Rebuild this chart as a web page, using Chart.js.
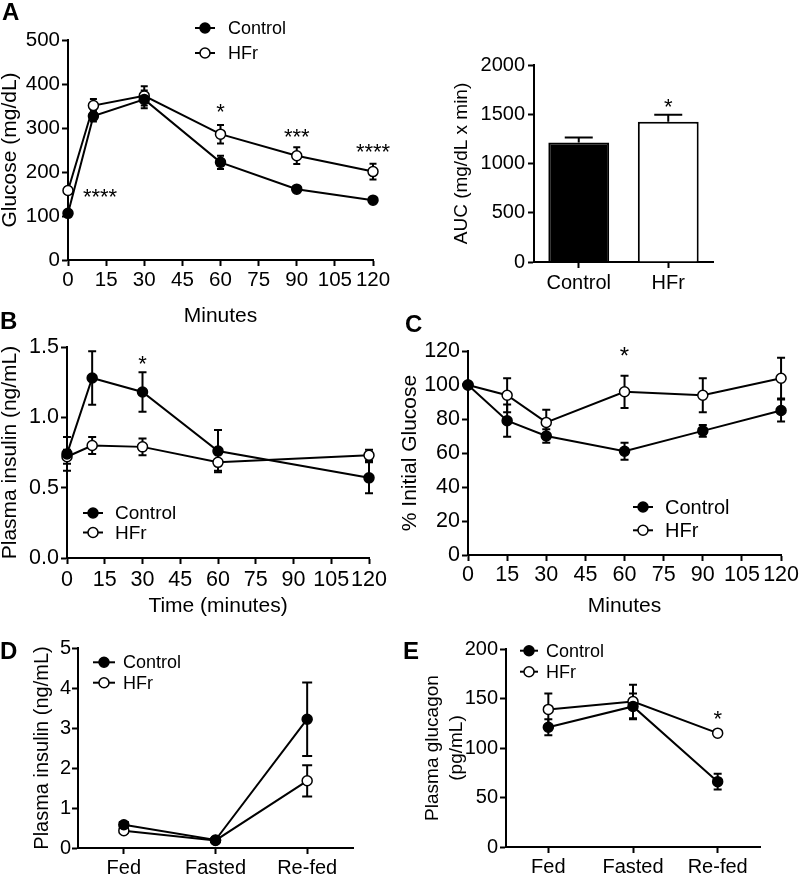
<!DOCTYPE html>
<html><head><meta charset="utf-8">
<script src="https://cdn.jsdelivr.net/npm/chart.js@4.4.1/dist/chart.umd.min.js"></script>
<style>
body{margin:0;background:#fff;width:800px;height:876px;position:relative;overflow:hidden;font-family:'Liberation Sans',Arial,sans-serif}
canvas{position:absolute}
.lbl{position:absolute;font-weight:bold;font-size:24px;line-height:24px;color:#000;font-family:'Liberation Sans',Arial,sans-serif}
</style></head><body>
<canvas id="cA" width="400" height="330" style="left:0;top:0"></canvas>
<canvas id="cAUC" width="400" height="330" style="left:400px;top:0"></canvas>
<canvas id="cB" width="400" height="290" style="left:0;top:330px"></canvas>
<canvas id="cC" width="400" height="290" style="left:400px;top:330px"></canvas>
<canvas id="cD" width="400" height="256" style="left:0;top:620px"></canvas>
<canvas id="cE" width="400" height="256" style="left:400px;top:620px"></canvas>
<div class="lbl" style="left:2px;top:0">A</div>
<div class="lbl" style="left:0;top:309px">B</div>
<div class="lbl" style="left:405px;top:312px">C</div>
<div class="lbl" style="left:0;top:639px">D</div>
<div class="lbl" style="left:403px;top:639px">E</div>
<script>
// ---------- data ----------
const seriesNames = ['Control', 'HFr'];
// A: glucose tolerance
const timesA = [0, 10, 30, 60, 90, 120];
const glucoseControl = [106, 327, 365, 222, 161, 136];
const glucoseControlErr = [6, 12, 20, 15, 6, 6];
const glucoseHFr = [158, 351, 373, 286, 237, 201];
const glucoseHFrErr = [8, 15, 22, 21, 19, 18];
const starsA = [{x: 12.6, y: 155, t: '****'}, {x: 60, y: 348, t: '*'}, {x: 90, y: 292, t: '***'}, {x: 120, y: 257, t: '****'}];
// A: AUC
const aucGroups = ['Control', 'HFr'];
const aucValues = [1212, 1424];
const aucErr = [52, 70];
const starsAUC = [{x: 1, y: 1627, t: '*'}];
// B: plasma insulin
const timesB = [0, 10, 30, 60, 120];
const insulinControl = [0.74, 1.28, 1.18, 0.76, 0.57];
const insulinControlErr = [0.12, 0.19, 0.14, 0.15, 0.11];
const insulinHFr = [0.72, 0.80, 0.79, 0.68, 0.73];
const insulinHFrErr = [0.05, 0.06, 0.06, 0.06, 0.04];
const starsB = [{x: 30, y: 1.42, t: '*'}];
// C: % initial glucose
const timesC = [0, 15, 30, 60, 90, 120];
const pctControl = [100, 79, 70, 61, 73, 85];
const pctControlErr = [0, 9.5, 4, 5, 3.5, 6.5];
const pctHFr = [100, 94, 78, 96, 94, 104];
const pctHFrErr = [0, 10, 7.5, 9.5, 10, 12];
const starsC = [{x: 60, y: 120.4, t: '*'}];
// D / E: fed states
const feedStates = ['Fed', 'Fasted', 'Re-fed'];
const plasmaInsControl = [0.58, 0.20, 3.22];
const plasmaInsControlErr = [0.07, 0.03, 0.92];
const plasmaInsHFr = [0.43, 0.19, 1.68];
const plasmaInsHFrErr = [0.05, 0.03, 0.39];
const glucagonControl = [121, 142, 66];
const glucagonControlErr = [8, 13, 8];
const glucagonHFr = [139, 147, 115];
const glucagonHFrErr = [16, 17, 2];
const starsE = [{x: 2, y: 135, t: '*'}];

// ---------- helpers ----------
const FONT = "'Liberation Sans', Arial, Helvetica, sans-serif";

function drawErr(chart, o) {
  const ctx = chart.ctx, ys = chart.scales.y, cap = o.cap || 4;
  ctx.save();
  ctx.strokeStyle = '#000'; ctx.lineWidth = o.width || 2; ctx.lineCap = 'butt';
  (o.sets || []).forEach(set => {
    const meta = chart.getDatasetMeta(set.dataset);
    const vals = chart.data.datasets[set.dataset].data;
    meta.data.forEach((el, i) => {
      const e = set.err[i]; if (!e) return;
      const v = (typeof vals[i] === 'object') ? vals[i].y : vals[i];
      const px = el.x;
      const top = ys.getPixelForValue(v + e);
      const bot = o.up ? ys.getPixelForValue(v) : ys.getPixelForValue(v - e);
      ctx.beginPath();
      ctx.moveTo(px, top); ctx.lineTo(px, bot);
      ctx.moveTo(px - cap, top); ctx.lineTo(px + cap, top);
      if (!o.up) { ctx.moveTo(px - cap, bot); ctx.lineTo(px + cap, bot); }
      ctx.stroke();
    });
  });
  ctx.restore();
}
const errPlugin = {
  id: 'errbars',
  beforeDatasetsDraw(chart, a, o) { if (o && o.sets && !o.up) drawErr(chart, o); },
  afterDatasetsDraw(chart, a, o) { if (o && o.sets && o.up) drawErr(chart, o); }
};
const starPlugin = {
  id: 'stars',
  afterDatasetsDraw(chart, a, o) {
    if (!o || !o.items) return;
    const ctx = chart.ctx, size = o.size || 22;
    ctx.save();
    ctx.fillStyle = '#000'; ctx.font = size + 'px ' + FONT;
    ctx.textAlign = 'center'; ctx.textBaseline = 'alphabetic';
    o.items.forEach(s => {
      const px = chart.scales.x.getPixelForValue(s.x);
      const py = chart.scales.y.getPixelForValue(s.y);
      ctx.fillText(s.t, px, py + 0.57 * size);
    });
    ctx.restore();
  }
};
const legPlugin = {
  id: 'mylegend',
  afterDraw(chart, a, o) {
    if (!o || o.x0 === undefined) return;
    const ctx = chart.ctx;
    ctx.save();
    chart.data.datasets.forEach((ds, i) => {
      const y = o.y0 + i * o.dy;
      ctx.strokeStyle = '#000'; ctx.lineWidth = 2;
      ctx.beginPath(); ctx.moveTo(o.x0, y); ctx.lineTo(o.x0 + o.len, y); ctx.stroke();
      ctx.beginPath(); ctx.arc(o.x0 + o.len / 2, y, 5, 0, Math.PI * 2);
      ctx.fillStyle = ds.pointBackgroundColor; ctx.fill();
      ctx.lineWidth = 1.5; ctx.stroke();
      ctx.fillStyle = '#000'; ctx.font = (o.size || 18) + 'px ' + FONT;
      ctx.textAlign = 'left'; ctx.textBaseline = 'middle';
      ctx.fillText(ds.label, o.tx, y + 1);
    });
    ctx.restore();
  }
};
Chart.register(errPlugin, starPlugin, legPlugin);

function axis(o) {
  const ax = {
    type: o.type || 'linear',
    border: {display: true, color: '#000', width: 2},
    grid: {display: true, drawOnChartArea: false, drawTicks: true, tickLength: 6, tickColor: '#000', tickWidth: 2, color: '#000', offset: false},
    ticks: {color: '#000', font: {family: FONT, size: o.size || 20}, padding: o.pad === undefined ? 2 : o.pad,
            autoSkip: false, maxRotation: 0, minRotation: 0},
    afterFit: o.fit
  };
  if (o.min !== undefined) { ax.min = o.min; ax.max = o.max; }
  if (o.step) ax.ticks.stepSize = o.step;
  ax.ticks.callback = o.fmt || function (v, i, t) {
    return (this.type === 'category') ? this.getLabelForValue(v) : String(v);
  };
  if (o.offset) ax.offset = true;
  if (o.title) ax.title = {display: true, text: o.title, color: '#000',
      font: {family: FONT, size: o.tsize || 20, lineHeight: o.tlh || 1}, padding: {top: o.tpt || 0, bottom: o.tpb || 0}};
  return ax;
}
function lineDS(label, xs, ys, filled) {
  return {label, data: xs ? xs.map((x, i) => ({x, y: ys[i]})) : ys.slice(),
    borderColor: '#000', borderWidth: 2, pointRadius: 5, pointHoverRadius: 5,
    pointBackgroundColor: filled ? '#000' : '#fff', pointBorderColor: '#000', pointBorderWidth: 1.5,
    tension: 0, clip: false, fill: false};
}
function base(pad, plugins) {
  return {responsive: false, animation: false, devicePixelRatio: 1,
    layout: {padding: pad},
    plugins: Object.assign({legend: {display: false}, tooltip: {enabled: false}}, plugins)};
}

// ---------- A: glucose ----------
new Chart(document.getElementById('cA'), {
  type: 'line',
  data: {datasets: [lineDS(seriesNames[0], timesA, glucoseControl, true), lineDS(seriesNames[1], timesA, glucoseHFr, false)]},
  options: Object.assign(base({left: 0, top: 40, right: 27, bottom: 0}, {
      errbars: {sets: [{dataset: 0, err: glucoseControlErr}, {dataset: 1, err: glucoseHFrErr}], cap: 3.5},
      stars: {items: starsA, size: 22},
      mylegend: {x0: 195, len: 20, tx: 228, y0: 28, dy: 25, size: 18}}), {
    scales: {
      x: axis({min: 0, max: 120, step: 15, size: 20.5, pad: 2, title: 'Minutes', tsize: 21, tpb: 3.5, fit: s => { s.height = 70; }}),
      y: axis({min: 0, max: 500, step: 100, size: 20.5, pad: 2, title: 'Glucose (mg/dL)', tsize: 21, fit: s => { s.width = 68; }})
    }})
});

// ---------- A: AUC ----------
new Chart(document.getElementById('cAUC'), {
  type: 'bar',
  data: {labels: aucGroups, datasets: [{label: 'AUC', data: aucValues, backgroundColor: ['#000', '#fff'],
    borderColor: '#000', borderWidth: 2, barPercentage: 0.68, categoryPercentage: 1}]},
  options: Object.assign(base({left: 52, top: 65, right: 87, bottom: 0}, {
      errbars: {sets: [{dataset: 0, err: aucErr}], up: true, cap: 14},
      stars: {items: starsAUC, size: 22}}), {
    scales: {
      x: axis({type: 'category', offset: true, size: 20, pad: 3, fit: s => { s.height = 68; }}),
      y: axis({min: 0, max: 2000, step: 500, size: 20, pad: 3, title: 'AUC (mg/dL x min)', tsize: 19, fit: s => { s.width = 82; }})
    }})
});

// ---------- B: insulin ----------
new Chart(document.getElementById('cB'), {
  type: 'line',
  data: {datasets: [lineDS(seriesNames[0], timesB, insulinControl, true), lineDS(seriesNames[1], timesB, insulinHFr, false)]},
  options: Object.assign(base({left: 0, top: 17, right: 31, bottom: 0}, {
      errbars: {sets: [{dataset: 0, err: insulinControlErr}, {dataset: 1, err: insulinHFrErr}], cap: 4},
      stars: {items: starsB, size: 22},
      mylegend: {x0: 83, len: 20, tx: 115, y0: 183, dy: 19.5, size: 19}}), {
    scales: {
      x: axis({min: 0, max: 120, step: 15, size: 21.5, pad: 3.5, title: 'Time (minutes)', tsize: 21, tpb: 2.8, fit: s => { s.height = 62; }}),
      y: axis({min: 0, max: 1.5, step: 0.5, size: 21.5, pad: 2, fmt: v => v.toFixed(1), title: 'Plasma insulin (ng/mL)', tsize: 21, fit: s => { s.width = 67; }})
    }})
});

// ---------- C: % initial glucose ----------
new Chart(document.getElementById('cC'), {
  type: 'line',
  data: {datasets: [lineDS(seriesNames[0], timesC, pctControl, true), lineDS(seriesNames[1], timesC, pctHFr, false)]},
  options: Object.assign(base({left: 0, top: 21, right: 18, bottom: 0}, {
      errbars: {sets: [{dataset: 0, err: pctControlErr}, {dataset: 1, err: pctHFrErr}], cap: 4},
      stars: {items: starsC, size: 24},
      mylegend: {x0: 233, len: 20, tx: 265, y0: 177, dy: 23.3, size: 20}}), {
    scales: {
      x: axis({min: 0, max: 120, step: 15, size: 21.5, pad: 1, title: 'Minutes', tsize: 21, tpb: 2.8, fit: s => { s.height = 65; }}),
      y: axis({min: 0, max: 120, step: 20, size: 21.5, pad: 2, title: '% Initial Glucose', tsize: 21, fit: s => { s.width = 68; }})
    }})
});

// ---------- D: plasma insulin fed states ----------
new Chart(document.getElementById('cD'), {
  type: 'line',
  data: {labels: feedStates, datasets: [lineDS(seriesNames[0], null, plasmaInsControl, true), lineDS(seriesNames[1], null, plasmaInsHFr, false)]},
  options: Object.assign(base({left: 32, top: 28, right: 47, bottom: 0}, {
      errbars: {sets: [{dataset: 0, err: plasmaInsControlErr}, {dataset: 1, err: plasmaInsHFrErr}], cap: 5},
      mylegend: {x0: 93, len: 22, tx: 123, y0: 42.3, dy: 20.4, size: 18}}), {
    scales: {
      x: axis({type: 'category', offset: true, size: 20, pad: 2, fit: s => { s.height = 28; }}),
      y: axis({min: 0, max: 5, step: 1, size: 20, pad: 1, title: 'Plasma insulin (ng/mL)', tsize: 20, fit: s => { s.width = 46; }})
    }})
});

// ---------- E: plasma glucagon ----------
new Chart(document.getElementById('cE'), {
  type: 'line',
  data: {labels: feedStates, datasets: [lineDS(seriesNames[0], null, glucagonControl, true), lineDS(seriesNames[1], null, glucagonHFr, false)]},
  options: Object.assign(base({left: 21, top: 29, right: 40, bottom: 0}, {
      errbars: {sets: [{dataset: 0, err: glucagonControlErr}, {dataset: 1, err: glucagonHFrErr}], cap: 4},
      stars: {items: starsE, size: 22},
      mylegend: {x0: 120, len: 18, tx: 146, y0: 30.7, dy: 21, size: 18}}), {
    scales: {
      x: axis({type: 'category', offset: true, size: 20, pad: 2, fit: s => { s.height = 29; }}),
      y: axis({min: 0, max: 200, step: 50, size: 20, pad: 2, title: ['Plasma glucagon', '(pg/mL)'], tsize: 19, tlh: 1.25, fit: s => { s.width = 85; }})
    }})
});
</script>
</body></html>
